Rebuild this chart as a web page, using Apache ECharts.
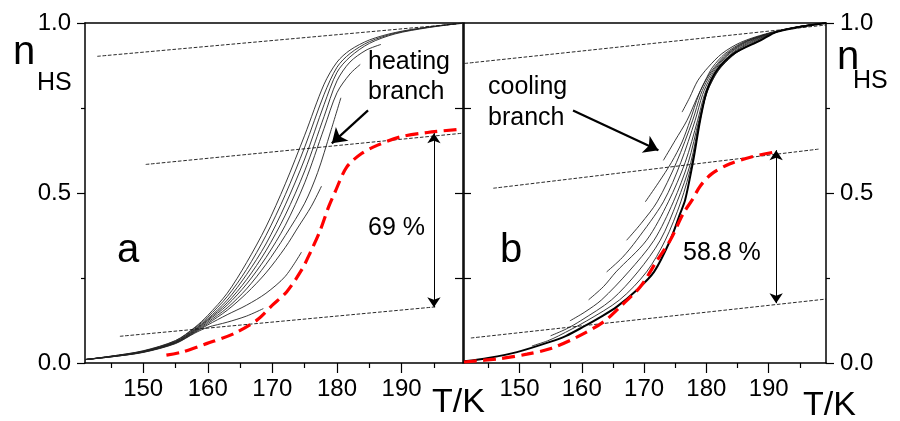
<!DOCTYPE html>
<html>
<head>
<meta charset="utf-8">
<script src="https://cdn.jsdelivr.net/npm/echarts@6/dist/echarts.min.js"></script>
<style>
  html, body { margin: 0; padding: 0; background: #fff; }
  #chart { width: 900px; height: 421px; }
</style>
</head>
<body>
<div id="chart"></div>
<script>
// tick values
const majorT = [150, 160, 170, 180, 190]
const minorT = [145, 155, 165, 175, 185, 195]
const innerN = [0.25, 0.5, 0.75]

// panel a : heating branches (T / K, n_HS)
const heatA1 = [[141,0.010],[145,0.020],[150,0.036],[155,0.066],[158,0.105],[160,0.14],[163,0.205],[166,0.295],[169,0.40],[172,0.527],[175,0.67],[178,0.82],[180,0.885],[182,0.92],[185,0.95],[189,0.972],[194,0.988],[199.5,1.0]]
const heatA2 = [[141,0.010],[145,0.020],[150,0.035],[155,0.065],[158,0.103],[160,0.135],[163,0.195],[166,0.275],[169,0.375],[172,0.495],[175,0.635],[178,0.79],[180,0.87],[182,0.91],[185,0.945],[189,0.97],[194,0.987],[199.5,1.0]]
const heatA3 = [[141,0.010],[145,0.019],[150,0.034],[155,0.063],[158,0.10],[160,0.13],[163,0.185],[166,0.26],[169,0.35],[172,0.465],[175,0.60],[178,0.76],[180,0.855],[182,0.90],[185,0.94],[189,0.968],[194,0.986],[199.5,1.0]]
const heatA4 = [[141,0.010],[145,0.019],[150,0.034],[155,0.062],[158,0.098],[160,0.127],[163,0.177],[166,0.245],[169,0.33],[172,0.435],[175,0.565],[178,0.725],[180,0.83],[182,0.885],[184.5,0.92],[186.8,0.937]]
const heatA5 = [[141,0.010],[145,0.019],[150,0.033],[155,0.061],[158,0.096],[160,0.124],[163,0.17],[166,0.232],[169,0.31],[172,0.405],[175,0.53],[178,0.69],[180,0.795],[182,0.85],[183.6,0.878]]
const heatA6 = [[141,0.010],[145,0.019],[150,0.033],[155,0.060],[158,0.094],[160,0.12],[163,0.162],[166,0.218],[169,0.29],[172,0.375],[175,0.47],[177,0.56],[179,0.68],[180.6,0.78]]
const heatA7 = [[141,0.010],[145,0.018],[150,0.032],[155,0.059],[158,0.092],[160,0.116],[163,0.155],[166,0.205],[169,0.265],[172,0.34],[174,0.40],[176,0.46],[177.6,0.52]]
const heatA8 = [[141,0.010],[145,0.018],[150,0.032],[155,0.058],[158,0.09],[160,0.112],[163,0.142],[166,0.17],[169,0.205],[172,0.255],[174.5,0.326]]
const heatA9 = [[141,0.010],[145,0.018],[150,0.031],[155,0.057],[158,0.088],[160,0.105],[163,0.12],[166,0.138],[168.6,0.16]]
const redA = [[153.6,0.023],[156,0.032],[159.8,0.057],[164,0.086],[167.6,0.126],[170,0.17],[172.2,0.209],[174.5,0.273],[175.8,0.322],[177.4,0.39],[178.7,0.459],[179.7,0.503],[181.5,0.576],[183.8,0.616],[186.2,0.64],[189.8,0.665],[194,0.678],[199.3,0.688]]

// panel b : cooling branches
const coolB1 = [[176.1,0.738],[177.3,0.78],[178.6,0.83],[180.3,0.87],[182.5,0.91],[185.5,0.943],[189.5,0.968],[194,0.987],[199.2,1.0]]
const coolB2 = [[173.1,0.596],[175,0.655],[176.9,0.714],[178.5,0.78],[179.8,0.83],[181,0.87],[183,0.91],[186,0.944],[190,0.969],[194.5,0.988],[199.2,1.0]]
const coolB3 = [[170.2,0.474],[172.3,0.53],[174.4,0.59],[176.1,0.65],[177.4,0.714],[178.8,0.79],[180,0.835],[181.3,0.87],[183.3,0.91],[186.3,0.945],[190.2,0.97],[194.7,0.988],[199.2,1.0]]
const coolB4 = [[167.2,0.361],[169.5,0.41],[172.1,0.474],[175.2,0.59],[177.8,0.714],[179.1,0.79],[180.3,0.837],[181.5,0.87],[183.5,0.91],[186.6,0.946],[190.4,0.971],[195,0.989],[199.2,1.0]]
const coolB5 = [[164.0,0.268],[166.5,0.31],[168.8,0.361],[173.1,0.474],[175.9,0.59],[178.2,0.714],[179.4,0.79],[180.6,0.838],[181.7,0.87],[183.7,0.91],[186.9,0.946],[190.6,0.971],[195,0.989],[199.2,1.0]]
const coolB6 = [[161.1,0.186],[163.5,0.225],[165.5,0.268],[170.4,0.361],[173.9,0.474],[176.6,0.59],[178.6,0.714],[179.7,0.79],[180.9,0.84],[181.9,0.87],[184,0.91],[187.3,0.947],[190.8,0.972],[195,0.989],[199.2,1.0]]
const coolB7 = [[158.1,0.124],[160.5,0.15],[163.2,0.186],[167.5,0.268],[171.6,0.361],[174.7,0.474],[177.1,0.59],[178.8,0.714],[179.9,0.79],[181.1,0.84],[182.1,0.87],[184.2,0.91],[187.6,0.947],[191,0.972],[195,0.989],[199.2,1.0]]
const coolB8 = [[155.0,0.08],[157.5,0.1],[159.8,0.124],[164.8,0.186],[169.0,0.268],[172.6,0.361],[175.3,0.474],[177.5,0.59],[178.9,0.714],[180,0.79],[181.2,0.84],[182.3,0.87],[184.5,0.91],[188,0.948],[191.2,0.973],[195,0.99],[199.2,1.0]]
const coolB9 = [[152.0,0.05],[154.5,0.065],[156.3,0.08],[160.8,0.124],[166.1,0.186],[170.4,0.268],[173.4,0.361],[175.9,0.474],[177.7,0.59],[179.0,0.714],[180.05,0.795],[181.4,0.845],[182.5,0.873],[184.8,0.912],[188.3,0.948],[191.3,0.974],[195,0.99],[199.2,1.0]]
const coolMain = [[141.1,0.005],[145,0.015],[149.6,0.032],[154.9,0.062],[157.5,0.08],[160.2,0.106],[163,0.135],[165.6,0.165],[168.8,0.214],[171.6,0.268],[174.2,0.361],[175.8,0.44],[176.6,0.48],[177.9,0.596],[179,0.714],[180.1,0.802],[181.7,0.861],[184.4,0.91],[188.7,0.949],[191.3,0.974],[195,0.988],[199.2,1.0]]
const redB = [[141.1,0.003],[146.9,0.013],[151.2,0.026],[154.9,0.042],[159.2,0.076],[163.5,0.121],[166.7,0.175],[169.4,0.224],[172.1,0.302],[174.2,0.361],[176.3,0.44],[177.7,0.479],[179,0.52],[180.9,0.557],[183.8,0.586],[187.2,0.606],[190.8,0.62]]

// dotted guide lines
const guideA = [[[142.9,0.902],[199.5,0.999]], [[150.4,0.584],[199.5,0.676]], [[146.4,0.0785],[195.2,0.165]]]
const guideB = [[[141.2,0.881],[199.2,0.994]], [[145.8,0.514],[198,0.629]], [[142.2,0.0735],[199.2,0.188]]]

// arrows
const arrowA = [[184.8,0.743],[179.2,0.646]]
const arrowB = [[158.6,0.743],[172.3,0.626]]
const spanA = [[195,0.164],[195,0.676]]
const spanB = [[191.2,0.176],[191.2,0.626]]

const heatA = [heatA1, heatA2, heatA3, heatA4, heatA5, heatA6, heatA7, heatA8, heatA9]
const coolB = [coolB1, coolB2, coolB3, coolB4, coolB5, coolB6, coolB7, coolB8, coolB9]

const FONT = 'Liberation Sans, Arial, sans-serif'
const black = '#000'

// axis helpers
function bottomMajor(grid, min, max) {
  return {
    gridIndex: grid, type: 'value', position: 'bottom', min: min, max: max,
    axisLine: { show: true, onZero: false, lineStyle: { color: black, width: 1.5 } },
    axisTick: { show: true, inside: false, length: 10, customValues: majorT, lineStyle: { color: black, width: 1.2 } },
    axisLabel: { show: true, customValues: majorT, margin: 14, color: black, fontSize: 24, fontFamily: FONT },
    splitLine: { show: false }
  }
}
function bottomMinor(grid, min, max) {
  return {
    gridIndex: grid, type: 'value', position: 'bottom', min: min, max: max,
    axisLine: { show: false, onZero: false },
    axisTick: { show: true, inside: false, length: 5, customValues: minorT, lineStyle: { color: black, width: 1.2 } },
    axisLabel: { show: false },
    splitLine: { show: false }
  }
}
function topLine(grid, min, max) {
  return {
    gridIndex: grid, type: 'value', position: 'top', min: min, max: max,
    axisLine: { show: true, onZero: false, lineStyle: { color: black, width: 1.5 } },
    axisTick: { show: false }, axisLabel: { show: false }, splitLine: { show: false }
  }
}
function outerY(grid, pos) {
  return {
    gridIndex: grid, type: 'value', position: pos, min: 0, max: 1, interval: 0.5,
    axisLine: { show: true, onZero: false, lineStyle: { color: black, width: 1.5 } },
    axisTick: { show: true, inside: false, length: 8, lineStyle: { color: black, width: 1.2 } },
    minorTick: { show: true, splitNumber: 2, length: 4, lineStyle: { color: black, width: 1.2 } },
    axisLabel: { show: true, margin: 14, color: black, fontSize: 24, fontFamily: FONT,
      formatter: v => v.toFixed(1) },
    splitLine: { show: false }
  }
}
function innerY(grid, pos, len) {
  return {
    gridIndex: grid, type: 'value', position: pos, min: 0, max: 1,
    axisLine: { show: true, onZero: false, lineStyle: { color: black, width: 1.5 } },
    axisTick: { show: true, inside: true, length: len, customValues: innerN, lineStyle: { color: black, width: 1.2 } },
    axisLabel: { show: false },
    splitLine: { show: false }
  }
}

function curve(xi, yi, d, color, w, dash) {
  const s = { type: 'line', xAxisIndex: xi, yAxisIndex: yi, data: d, smooth: 0.3, symbol: 'none',
    lineStyle: { color: color, width: w }, silent: true }
  // built-in dash names only: custom dash arrays made the axis ticks vanish
  if (dash) s.lineStyle.type = dash
  return s
}

const series = []
// thin branch curves
heatA.forEach(d => series.push(curve(0, 0, d, '#222', 0.9)))
coolB.forEach(d => series.push(curve(3, 3, d, '#222', 0.9)))
series.push(curve(3, 3, coolMain, black, 2))

// dotted guides
guideA.forEach(d => series.push(curve(0, 0, d, '#111', 0.9, 'dashed')))
guideB.forEach(d => series.push(curve(3, 3, d, '#111', 0.9, 'dashed')))

// red dashed curves
series.push(curve(0, 0, redA, '#ff0000', 3.2, 'dashed'))
series.push(curve(3, 3, redB, '#ff0000', 3.2, 'dashed'))

// arrows
function arrow(xi, yi, pts, both, size, w) {
  return {
    type: 'lines', coordinateSystem: 'cartesian2d', xAxisIndex: xi, yAxisIndex: yi,
    symbol: both ? ['arrow', 'arrow'] : ['none', 'arrow'], symbolSize: size,
    lineStyle: { color: black, width: w, opacity: 1 },
    itemStyle: { color: black },
    data: [{ coords: pts }], silent: true, z: 5
  }
}
series.push(arrow(0, 0, arrowA, false, 14, 2.2))
series.push(arrow(3, 3, arrowB, false, 14, 2.2))
series.push(arrow(0, 0, spanA, true, 10, 1))
series.push(arrow(3, 3, spanB, true, 10, 1))

function txt(x, y, s, size) {
  return { type: 'text', x: x, y: y, silent: true,
    style: { text: s, fill: black, font: size + 'px ' + FONT, textAlign: 'left', textVerticalAlign: 'middle' } }
}

const option = {
  animation: false,
  backgroundColor: '#fff',
  grid: [
    { left: 85, top: 23, width: 378, height: 340, outerBoundsMode: 'none' },
    { left: 464, top: 23, width: 362, height: 340, outerBoundsMode: 'none' }
  ],
  xAxis: [
    bottomMajor(0, 141, 199.5), bottomMinor(0, 141, 199.5), topLine(0, 141, 199.5),
    bottomMajor(1, 141.1, 199.2), bottomMinor(1, 141.1, 199.2), topLine(1, 141.1, 199.2)
  ],
  yAxis: [
    outerY(0, 'left'), innerY(0, 'right', 8), innerY(1, 'left', 7), outerY(1, 'right')
  ],
  graphic: [
    txt(13, 53, 'n', 40), txt(37, 83, 'HS', 25),
    txt(837, 58, 'n', 40), txt(853, 81, 'HS', 25),
    txt(432, 403, 'T/K', 34), txt(803, 406, 'T/K', 34),
    txt(117, 251, 'a', 40), txt(500, 251, 'b', 40),
    txt(368, 62, 'heating', 25), txt(368, 92, 'branch', 25),
    txt(488, 87, 'cooling', 25), txt(488, 118, 'branch', 25),
    txt(368, 228, '69 %', 25), txt(683, 253, '58.8 %', 25)
  ],
  series: series
}

const myChart = echarts.init(document.getElementById('chart'), null, { renderer: 'canvas' })
myChart.setOption(option)
</script>
</body>
</html>
